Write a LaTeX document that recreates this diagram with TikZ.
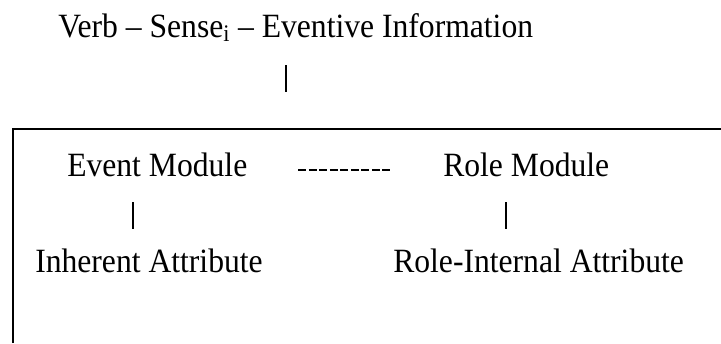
\documentclass[tikz,border=0pt]{standalone}
\usepackage{fontspec}
\setmainfont[FakeStretch=0.93]{Liberation Serif}
\usetikzlibrary{calc}

\begin{document}
\begin{tikzpicture}[x=0.75pt,y=-0.75pt,
	txt/.style={font=\fontsize{25.5}{30}\selectfont,inner sep=0pt,anchor=base west},
	stick/.style={line width=1.5pt},
	modlink/.style={line width=1.4pt,dash pattern=on 6pt off 1.9pt,shorten <=38pt,shorten >=38pt}]
\useasboundingbox (0,0) rectangle (721,343);
%title
\path (58,37) node[txt] (verb) {Verb -- Sense\textsubscript{i} -- Eventive Information};
%frame
\coordinate (verbbar) at (286,129);
\draw[stick] (13,343) -- (13,129) -- (721,129);
\draw[stick] ($(verb.base -| verbbar)+(0,28)$) -- ($(verbbar)+(0,-37)$);
%modules
\path (67,176) node[txt] (event) {Event Module}
	(443,176) node[txt] (role) {Role Module};
\draw[modlink] ([yshift=4.5pt]event.base east) -- ([yshift=4.5pt]role.base west);
%attributes
\path (35,272) node[txt] (inherent) {Inherent Attribute}
	(393,272) node[txt] (internal) {Role-Internal Attribute};
\coordinate (eventbar) at (133,0);
\coordinate (rolebar) at (506,0);
\draw[stick] ($(event.base -| eventbar)+(0,26)$) -- ($(inherent.base -| eventbar)+(0,-43)$);
\draw[stick] ($(role.base -| rolebar)+(0,26)$) -- ($(internal.base -| rolebar)+(0,-43)$);
\end{tikzpicture}
\end{document}
